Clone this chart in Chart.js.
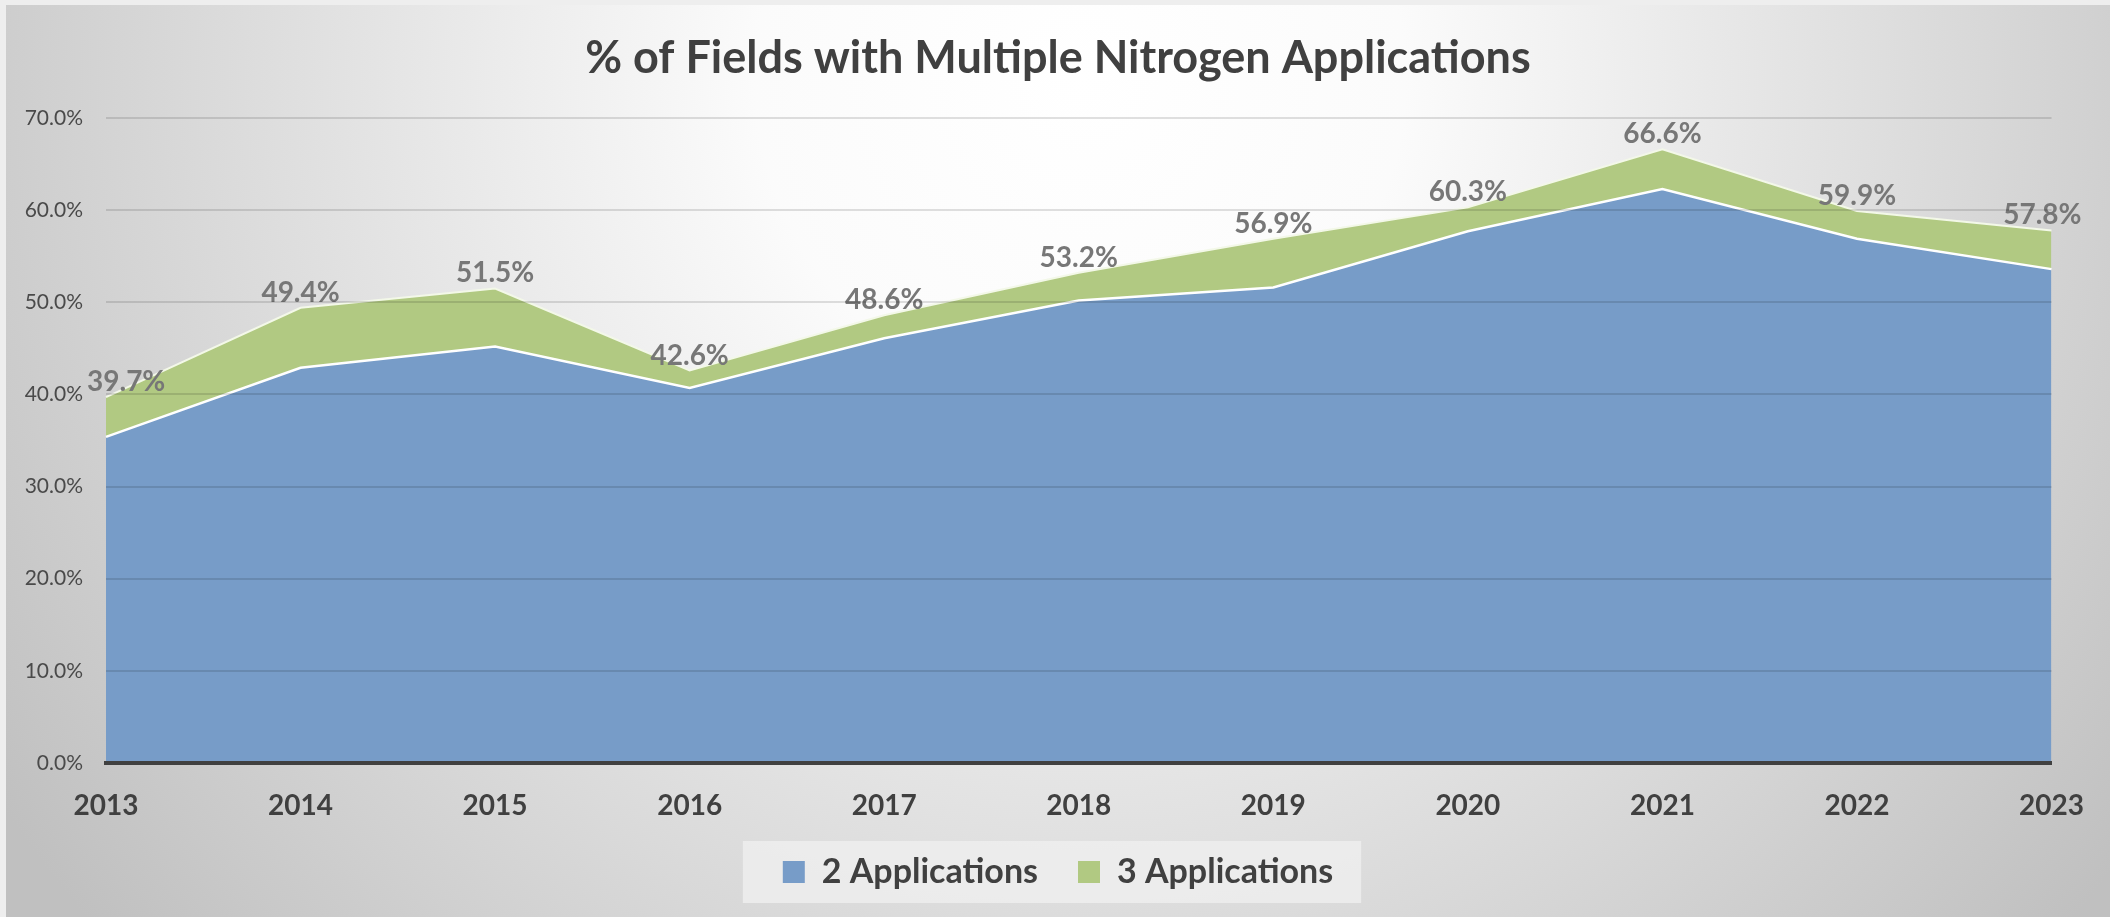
<!DOCTYPE html>
<html>
<head>
<meta charset="utf-8">
<script src="https://cdn.jsdelivr.net/npm/chart.js@4.4.1/dist/chart.umd.min.js"></script>
<style>
  html, body { margin: 0; padding: 0; background: #eeeeee; width: 2110px; height: 917px; overflow: hidden; }
  #wrap { position: absolute; left: 6px; top: 5px; width: 2104px; height: 912px; }
</style>
</head>
<body>
<div id="wrap"><canvas id="c" width="2104" height="912"></canvas></div>
<script>
const years = ['2013','2014','2015','2016','2017','2018','2019','2020','2021','2022','2023'];
const twoApps = [35.4, 42.9, 45.2, 40.7, 46.1, 50.2, 51.6, 57.7, 62.3, 56.9, 53.6];
const threeApps = [4.3, 6.5, 6.3, 1.9, 2.5, 3.0, 5.3, 2.6, 4.3, 3.0, 4.2];
const yTickLabels = ['0.0%','10.0%','20.0%','30.0%','40.0%','50.0%','60.0%','70.0%'];
const seriesNames = ['2 Applications', '3 Applications'];
const chartTitle = '% of Fields with Multiple Nitrogen Applications';

const FONT = "Lato, 'Open Sans', sans-serif";

const bgPlugin = {
  id: 'bg',
  beforeDraw(chart) {
    const ctx = chart.ctx;
    const w = chart.width, h = chart.height;
    ctx.save();
    const g = ctx.createRadialGradient(1074, 75, 0, 1074, 75, 1300);
    g.addColorStop(0, '#ffffff');
    g.addColorStop(0.25, '#fbfbfb');
    g.addColorStop(1, '#c0c0c0');
    ctx.fillStyle = g;
    ctx.fillRect(0, 0, w, h);
    const lg = chart.legend;
    if (lg && lg.legendHitBoxes && lg.legendHitBoxes.length) {
      const hb = lg.legendHitBoxes;
      const first = hb[0], last = hb[hb.length - 1];
      const cy = first.top + first.height / 2;
      const x0 = first.left - 40;
      const x1 = last.left + last.width + 28;
      ctx.fillStyle = 'rgba(240,240,240,0.75)';
      ctx.fillRect(x0, cy - 31, x1 - x0, 62);
    }
    ctx.restore();
  }
};

const labelPlugin = {
  id: 'totLabels',
  afterDatasetsDraw(chart) {
    const ctx = chart.ctx;
    const xs = chart.scales.x, ys = chart.scales.y;
    const area = chart.chartArea;
    ctx.save();
    ctx.font = 'bold 28px ' + FONT;
    ctx.fillStyle = '#777777';
    ctx.textAlign = 'center';
    ctx.textBaseline = 'middle';
    years.forEach((yr, i) => {
      const total = twoApps[i] + threeApps[i];
      const txt = total.toFixed(1) + '%';
      const tw = ctx.measureText(txt).width;
      let x = xs.getPixelForValue(i);
      const y = ys.getPixelForValue(total) - 15;
      const minX = area.left - 19 + tw / 2;
      const maxX = area.right + 30 - tw / 2;
      x = Math.min(Math.max(x, minX), maxX);
      ctx.fillText(txt, x, y);
    });
    ctx.restore();
  }
};

new Chart(document.getElementById('c'), {
  type: 'line',
  data: {
    labels: years,
    datasets: [
      {
        label: seriesNames[0],
        data: twoApps,
        backgroundColor: '#779cc8',
        borderColor: '#ffffff',
        borderWidth: 2.5,
        fill: 'origin',
        pointRadius: 0,
        tension: 0
      },
      {
        label: seriesNames[1],
        data: threeApps,
        backgroundColor: '#b1c982',
        borderColor: '#f3f8e8',
        borderWidth: 2,
        fill: '-1',
        pointRadius: 0,
        tension: 0
      }
    ]
  },
  options: {
    responsive: false,
    animation: false,
    devicePixelRatio: 1,
    layout: { padding: { left: 0, right: 0, top: 0, bottom: 18 } },
    plugins: {
      title: {
        display: true,
        text: chartTitle,
        color: '#404040',
        font: { family: FONT, size: 45, weight: 'bold' },
        padding: { top: 26, bottom: 33 }
      },
      legend: {
        position: 'bottom',
        labels: {
          color: '#404040',
          font: { family: FONT, size: 34, weight: 'bold' },
          boxWidth: 22,
          boxHeight: 22,
          padding: 40,
          generateLabels(chart) {
            const items = Chart.defaults.plugins.legend.labels.generateLabels(chart);
            items.forEach(it => { it.lineWidth = 0; it.strokeStyle = 'rgba(0,0,0,0)'; });
            return items;
          }
        }
      },
      tooltip: { enabled: false }
    },
    scales: {
      x: {
        offset: false,
        grid: { display: false, drawTicks: false },
        border: { display: true, color: '#404040', width: 4, z: 2 },
        ticks: {
          color: '#404040',
          font: { family: FONT, size: 28, weight: 'bold' },
          padding: 26,
          maxRotation: 0,
          autoSkip: false
        },
        afterFit(s) { s.height = 52; }
      },
      y: {
        stacked: true,
        min: 0,
        max: 70,
        grid: { color: 'rgba(0,0,0,0.12)', lineWidth: 2, drawTicks: false, z: 1 },
        border: { display: false },
        ticks: {
          stepSize: 10,
          color: '#4a4a4a',
          font: { family: FONT, size: 21 },
          padding: 23,
          callback(v) { return yTickLabels[Math.round(v / 10)]; }
        },
        afterFit(s) { s.width = 100; }
      },
      yRight: {
        position: 'right',
        display: true,
        grid: { display: false, drawTicks: false },
        border: { display: false },
        ticks: { display: false },
        afterFit(s) { s.width = 57; }
      }
    }
  },
  plugins: [bgPlugin, labelPlugin]
});
</script>
</body>
</html>
